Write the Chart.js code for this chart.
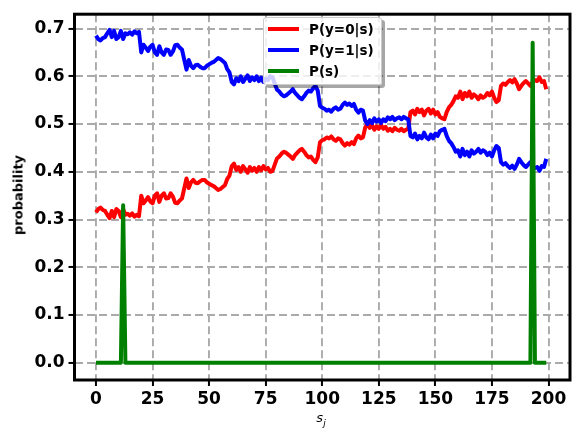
<!DOCTYPE html>
<html>
<head>
<meta charset="utf-8">
<script src="https://cdn.jsdelivr.net/npm/chart.js@4.4.0/dist/chart.umd.min.js"></script>
<style>
    html, body { margin: 0; padding: 0; background: #fff; }
    #wrap { position: relative; width: 579px; height: 438px; }
    #legend {
        position: absolute; left: 263px; top: 17px; width: 119px; height: 68px;
        box-sizing: border-box; background: rgba(255, 255, 255, 0.8);
        border: 1px solid #cccccc; border-radius: 3px;
        box-shadow: 3px 3px 0 rgba(0, 0, 0, 0.35);
        font: bold 13.5px "DejaVu Sans", sans-serif; color: #000;
    }
    .row { position: absolute; left: 0; height: 20px; display: flex; align-items: center; white-space: nowrap; }
    .swatch { width: 31px; height: 4px; margin-left: 4px; margin-right: 10px; }
    #ytitle {
        position: absolute; left: 18px; top: 195px; transform: translate(-50%, -50%) rotate(-90deg);
        font: bold 13px "DejaVu Sans", sans-serif; white-space: nowrap;
    }
    #xtitle {
        position: absolute; left: 321px; top: 419px; transform: translate(-50%, -50%);
        font: italic 13px "DejaVu Sans", sans-serif; white-space: nowrap;
    }
    #xtitle sub { font-size: 9px; }
</style>
</head>
<body>
<div id="wrap">
    <canvas id="probChart" width="579" height="438"></canvas>
    <div id="legend"></div>
    <div id="ytitle">probability</div>
    <div id="xtitle">s<sub>j</sub></div>
</div>
<script>
// P(y=0|s), one value per s = 0..199
const pY0 = [
    0.315, 0.322, 0.325, 0.320, 0.318, 0.310, 0.303, 0.318, 0.305, 0.322,
    0.318, 0.305, 0.322, 0.310, 0.312, 0.308, 0.313, 0.306, 0.310, 0.307,
    0.350, 0.334, 0.340, 0.347, 0.338, 0.334, 0.350, 0.355, 0.337, 0.350,
    0.355, 0.344, 0.345, 0.355, 0.348, 0.335, 0.334, 0.340, 0.344, 0.365,
    0.386, 0.366, 0.378, 0.383, 0.377, 0.376, 0.380, 0.383, 0.383, 0.378,
    0.375, 0.372, 0.370, 0.366, 0.362, 0.364, 0.368, 0.372, 0.385, 0.392,
    0.412, 0.417, 0.404, 0.410, 0.400, 0.412, 0.405, 0.398, 0.410, 0.402,
    0.408, 0.400, 0.410, 0.403, 0.412, 0.405, 0.408, 0.400, 0.402, 0.415,
    0.428, 0.432, 0.438, 0.442, 0.440, 0.436, 0.432, 0.427, 0.435, 0.440,
    0.445, 0.448, 0.442, 0.435, 0.430, 0.432, 0.425, 0.420, 0.430, 0.462,
    0.466, 0.468, 0.472, 0.470, 0.474, 0.468, 0.465, 0.470, 0.468, 0.460,
    0.455, 0.460, 0.457, 0.462, 0.458, 0.470, 0.476, 0.470, 0.472, 0.493,
    0.500, 0.492, 0.498, 0.488, 0.495, 0.490, 0.498, 0.490, 0.494, 0.486,
    0.490, 0.485, 0.492, 0.488, 0.486, 0.490, 0.485, 0.488, 0.490, 0.525,
    0.528, 0.520, 0.532, 0.525, 0.530, 0.518, 0.528, 0.532, 0.522, 0.530,
    0.520, 0.525, 0.515, 0.512, 0.510, 0.525, 0.535, 0.540, 0.548, 0.558,
    0.555, 0.568, 0.552, 0.565, 0.558, 0.568, 0.555, 0.562, 0.558, 0.552,
    0.560, 0.555, 0.558, 0.565, 0.560, 0.568, 0.555, 0.546, 0.550, 0.580,
    0.585, 0.582, 0.588, 0.592, 0.587, 0.594, 0.585, 0.573, 0.580, 0.586,
    0.590, 0.585, 0.580, 0.588, 0.592, 0.590, 0.598, 0.588, 0.590, 0.573
];

// P(y=1|s), same s positions
const pY1 = [
    0.685, 0.678, 0.675, 0.680, 0.682, 0.690, 0.697, 0.682, 0.695, 0.678,
    0.682, 0.695, 0.678, 0.690, 0.688, 0.692, 0.687, 0.694, 0.690, 0.693,
    0.650, 0.666, 0.660, 0.653, 0.662, 0.666, 0.650, 0.645, 0.663, 0.650,
    0.645, 0.656, 0.655, 0.645, 0.652, 0.665, 0.666, 0.660, 0.656, 0.635,
    0.614, 0.634, 0.622, 0.617, 0.623, 0.624, 0.620, 0.617, 0.617, 0.622,
    0.625, 0.628, 0.630, 0.634, 0.638, 0.636, 0.632, 0.628, 0.615, 0.608,
    0.588, 0.583, 0.596, 0.590, 0.600, 0.588, 0.595, 0.602, 0.590, 0.598,
    0.592, 0.600, 0.590, 0.597, 0.588, 0.595, 0.592, 0.600, 0.598, 0.585,
    0.572, 0.568, 0.562, 0.558, 0.560, 0.564, 0.568, 0.573, 0.565, 0.560,
    0.555, 0.552, 0.558, 0.565, 0.570, 0.568, 0.575, 0.580, 0.570, 0.538,
    0.534, 0.532, 0.528, 0.530, 0.526, 0.532, 0.535, 0.530, 0.532, 0.540,
    0.545, 0.540, 0.543, 0.538, 0.542, 0.530, 0.524, 0.530, 0.528, 0.507,
    0.500, 0.508, 0.502, 0.512, 0.505, 0.510, 0.502, 0.510, 0.506, 0.514,
    0.510, 0.515, 0.508, 0.512, 0.514, 0.510, 0.515, 0.512, 0.510, 0.475,
    0.472, 0.480, 0.468, 0.475, 0.470, 0.482, 0.472, 0.468, 0.478, 0.470,
    0.480, 0.475, 0.485, 0.488, 0.490, 0.475, 0.465, 0.460, 0.452, 0.442,
    0.445, 0.432, 0.448, 0.435, 0.442, 0.432, 0.445, 0.438, 0.442, 0.448,
    0.440, 0.445, 0.442, 0.435, 0.440, 0.432, 0.445, 0.454, 0.450, 0.420,
    0.415, 0.418, 0.412, 0.408, 0.413, 0.406, 0.415, 0.427, 0.420, 0.414,
    0.410, 0.415, 0.420, 0.412, 0.408, 0.410, 0.402, 0.412, 0.410, 0.427
];

// P(s): zero everywhere except two spikes; corner points of the line
const pSx = [0, 11, 12, 13, 192, 193, 194, 199];
const pSy = [0, 0, 0.33, 0, 0, 0.67, 0, 0];

const xTicks = [0, 25, 50, 75, 100, 125, 150, 175, 200];
const yTicks = [0.0, 0.1, 0.2, 0.3, 0.4, 0.5, 0.6, 0.7];

const seriesNames = ["P(y=0|s)", "P(y=1|s)", "P(s)"];
const seriesColors = ["#ff0000", "#0000ff", "#008000"];

const toPoints = (arr) => arr.map((v, i) => ({ x: i, y: v }));

const tickFont = { family: "DejaVu Sans", size: 17, weight: "bold" };

// thick black box around the plot like matplotlib spines
const framePlugin = {
    id: "frame",
    afterDraw(chart) {
        const a = chart.chartArea;
        const ctx = chart.ctx;
        ctx.save();
        ctx.strokeStyle = "#000";
        ctx.lineWidth = 3;
        ctx.strokeRect(a.left, a.top, a.right - a.left, a.bottom - a.top);
        ctx.restore();
    }
};

const gridOpts = {
    color: "#aaaaaa", lineWidth: 1.9,
    tickColor: "#000", tickLength: 6, tickWidth: 2, tickBorderDash: []
};

const ctx = document.getElementById("probChart").getContext("2d");
new Chart(ctx, {
    type: "line",
    data: {
        datasets: [
            { label: seriesNames[0], data: toPoints(pY0), borderColor: seriesColors[0], borderWidth: 4, order: 2 },
            { label: seriesNames[1], data: toPoints(pY1), borderColor: seriesColors[1], borderWidth: 4, order: 1 },
            { label: seriesNames[2], data: pSx.map((x, i) => ({ x: x, y: pSy[i] })), borderColor: seriesColors[2], borderWidth: 4, order: 0 }
        ]
    },
    options: {
        responsive: false,
        animation: false,
        events: [],
        elements: { point: { radius: 0 }, line: { tension: 0, borderJoinStyle: "round" } },
        layout: { padding: { top: 10.5, right: 9, left: 0, bottom: 0 } },
        plugins: { legend: { display: false }, tooltip: { enabled: false } },
        scales: {
            x: {
                type: "linear",
                min: -9.5,
                max: 209.5,
                afterFit(s) { s.height = 58; },
                afterBuildTicks(s) { s.ticks = xTicks.map(v => ({ value: v })); },
                border: { display: false, dash: [8, 4] },
                grid: gridOpts,
                ticks: { color: "#000", font: tickFont, padding: 3, maxRotation: 0, autoSkip: false,
                    callback: (v) => String(v) }
            },
            y: {
                type: "linear",
                min: -0.036,
                max: 0.730,
                afterFit(s) { s.width = 74.5; },
                afterBuildTicks(s) { s.ticks = yTicks.map(v => ({ value: v })); },
                border: { display: false, dash: [8, 4] },
                grid: gridOpts,
                ticks: { color: "#000", font: tickFont, padding: 4, autoSkip: false,
                    callback: (v) => v.toFixed(1) }
            }
        }
    },
    plugins: [framePlugin]
});

// legend box drawn inside the plot, top middle
const legendBox = document.getElementById("legend");
const rowTops = [1, 22, 43];
seriesNames.forEach((name, i) => {
    const row = document.createElement("div");
    row.className = "row";
    row.style.top = rowTops[i] + "px";
    row.innerHTML = `<span class="swatch" style="background:${seriesColors[i]}"></span><span>${name}</span>`;
    legendBox.appendChild(row);
});
</script>
</body>
</html>
